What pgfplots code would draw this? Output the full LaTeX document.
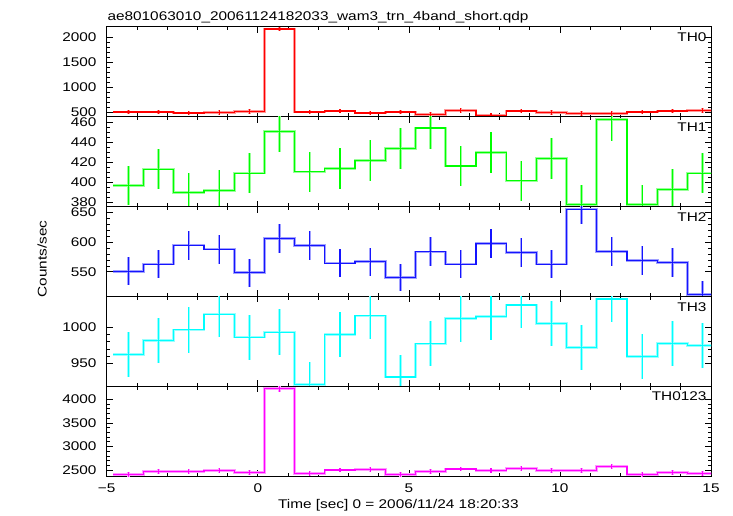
\documentclass[border=0pt]{standalone}
\usepackage{fontspec}
\setmainfont{Liberation Sans}[FakeStretch=1.22]
\usepackage{pgfplots}
\usepackage{pgfplotstable}
\pgfplotsset{compat=1.18}
\newcommand\F{\fontsize{12.6bp}{15bp}\selectfont}

% columns: l = left bin edge, c = bin centre, y = rate, e = error
\pgfplotstableread{
l c y e
-4.78 -4.28 513 45
-3.78 -3.28 513 45
-2.78 -2.28 493 45
-1.78 -1.28 500 45
-0.78 -0.28 527 45
0.22 0.72 2165 47
1.22 1.72 513 45
2.22 2.72 533 45
3.22 3.72 493 45
4.22 4.72 513 45
5.22 5.72 460 45
6.22 6.72 547 45
7.22 7.72 447 45
8.22 8.72 533 45
9.22 9.72 500 45
10.22 10.72 487 45
11.22 11.72 480 45
12.22 12.72 513 45
13.22 13.72 533 45
14.22 14.72 540 45
15.22 nan 540 0
}\thzero

\pgfplotstableread{
l c y e
-4.78 -4.28 396.4 19.9
-3.78 -3.28 412.8 20.3
-2.78 -2.28 389.7 19.7
-1.78 -1.28 391.7 19.8
-0.78 -0.28 408.8 20.2
0.22 0.72 450.9 21.2
1.22 1.72 410.1 20.3
2.22 2.72 413.4 20.3
3.22 3.72 421.5 20.5
4.22 4.72 433.5 20.8
5.22 5.72 454.2 21.3
6.22 6.72 416.1 20.4
7.22 7.72 429.5 20.7
8.22 8.72 401.1 20.0
9.22 9.72 423.8 20.6
10.22 10.72 377.3 19.4
11.22 11.72 462.9 21.5
12.22 12.72 377.3 19.4
13.22 13.72 392.7 19.8
14.22 14.72 408.8 20.2
15.22 nan 408.8 0
}\thone

\pgfplotstableread{
l c y e
-4.78 -4.28 550.6 23.5
-3.78 -3.28 562.8 23.7
-2.78 -2.28 594.7 24.4
-1.78 -1.28 588.0 24.2
-0.78 -0.28 548.3 23.4
0.22 0.72 605.9 24.6
1.22 1.72 593.6 24.4
2.22 2.72 564.5 23.8
3.22 3.72 566.8 23.8
4.22 4.72 540.5 23.2
5.22 5.72 583.5 24.2
6.22 6.72 562.8 23.7
7.22 7.72 597.5 24.4
8.22 8.72 582.4 24.1
9.22 9.72 562.8 23.7
10.22 10.72 655.0 25.6
11.22 11.72 584.1 24.2
12.22 12.72 569.0 23.9
13.22 13.72 565.6 23.8
14.22 14.72 512.0 22.6
15.22 nan 512.0 0
}\thtwo

\pgfplotstableread{
l c y e
-4.78 -4.28 962.5 31.0
-3.78 -3.28 981.9 31.3
-2.78 -2.28 996.3 31.6
-1.78 -1.28 1018.0 31.9
-0.78 -0.28 986.1 31.4
0.22 0.72 993.1 31.5
1.22 1.72 920.8 30.3
2.22 2.72 989.8 31.5
3.22 3.72 1015.7 31.9
4.22 4.72 931.0 30.5
5.22 5.72 976.9 31.3
6.22 6.72 1011.6 31.8
7.22 7.72 1014.4 31.8
8.22 8.72 1030.6 32.1
9.22 9.72 1005.1 31.7
10.22 10.72 972.2 31.2
11.22 11.72 1038.9 32.2
12.22 12.72 959.7 31.0
13.22 13.72 977.3 31.3
14.22 14.72 974.5 31.2
15.22 nan 974.5 0
}\ththree

\pgfplotstableread{
l c y e
-4.78 -4.28 2408 49.1
-3.78 -3.28 2465 49.6
-2.78 -2.28 2472 49.7
-1.78 -1.28 2493 49.9
-0.78 -0.28 2451 49.5
0.22 0.72 4226 65.0
1.22 1.72 2422 49.2
2.22 2.72 2500 50.0
3.22 3.72 2507 50.1
4.22 4.72 2401 49.0
5.22 5.72 2472 49.7
6.22 6.72 2521 50.2
7.22 7.72 2493 49.9
8.22 8.72 2535 50.3
9.22 9.72 2493 49.9
10.22 10.72 2493 49.9
11.22 11.72 2578 50.8
12.22 12.72 2401 49.0
13.22 13.72 2451 49.5
14.22 14.72 2422 49.2
15.22 nan 2422 0
}\thall

\pgfplotsset{
  panel/.style={
    scale only axis, width=604.3bp, height=89.92bp,
    xmin=-5, xmax=15, xtick={-5,0,5,10,15}, minor x tick num=4,
    xticklabels={},
    major tick length=6bp, minor tick length=3.5bp,
    tick style={black, line width=0.6bp},
    axis line style={black, line width=0.8bp},
    /pgf/number format/assume math mode=true,
    /pgf/number format/1000 sep={},
    scaled y ticks=false,
    tick label style={font=\F},
    yticklabel style={inner sep=0pt, anchor=east, xshift=-10bp},
    xticklabel style={inner sep=0pt, anchor=north, yshift=-7bp},
  },
  hhalo/.style={color=#1!40, solid, line width=2.6bp, mark=none, const plot mark left, forget plot},
  hstep/.style={color=#1, solid, line width=1.2bp, mark=none, const plot mark left},
  herrhalo/.style={color=#1!40, line width=2.4bp, only marks, mark=*, forget plot,
    mark options={draw opacity=0, fill opacity=0},
    error bars/.cd, y dir=both, y explicit, error mark=none,
    error bar style={line width=2.4bp, solid, color=#1!40}},
  herr/.style={color=#1, line width=1.1bp, only marks, mark=*,
    mark options={draw opacity=0, fill opacity=0},
    error bars/.cd, y dir=both, y explicit, error mark=none,
    error bar style={line width=1.1bp, solid, color=#1}},
}

\definecolor{qred}{RGB}{255,0,0}
\definecolor{qgreen}{RGB}{0,255,0}
\definecolor{qblue}{RGB}{20,20,255}
\definecolor{qcyan}{RGB}{0,255,255}
\definecolor{qmag}{RGB}{255,0,255}

\begin{document}
\F
\begin{tikzpicture}
\path[use as bounding box] (0,0) rectangle (733bp,-516bp);

\begin{axis}[panel, at={(106.7bp,-26.7bp)}, anchor=north west,
  ymin=420, ymax=2210, ytick={500,1000,1500,2000}, minor y tick num=4]
  \addplot[hhalo=qred] table[x=l, y=y] {\thzero};
  \addplot[herrhalo=qred] table[x=c, y=y, y error=e] {\thzero};
  \addplot[herr=qred] table[x=c, y=y, y error=e] {\thzero};
  \addplot[hstep=qred] table[x=l, y=y] {\thzero};
  \node[anchor=north east, inner sep=0pt, font=\F] at (rel axis cs:1,1) [xshift=-4.3bp, yshift=-5.6bp] {TH0};
\end{axis}

\begin{axis}[panel, at={(106.7bp,-116.62bp)}, anchor=north west,
  ymin=375.3, ymax=465.6, ytick={380,400,420,440,460}, minor y tick num=3]
  \addplot[hhalo=qgreen] table[x=l, y=y] {\thone};
  \addplot[herrhalo=qgreen] table[x=c, y=y, y error=e] {\thone};
  \addplot[herr=qgreen] table[x=c, y=y, y error=e] {\thone};
  \addplot[hstep=qgreen] table[x=l, y=y] {\thone};
  \node[anchor=north east, inner sep=0pt, font=\F] at (rel axis cs:1,1) [xshift=-4.3bp, yshift=-5.6bp] {TH1};
\end{axis}

\begin{axis}[panel, at={(106.7bp,-206.54bp)}, anchor=north west,
  ymin=508.6, ymax=659.4, ytick={550,600,650}, minor y tick num=4]
  \addplot[hhalo=qblue] table[x=l, y=y] {\thtwo};
  \addplot[herrhalo=qblue] table[x=c, y=y, y error=e] {\thtwo};
  \addplot[herr=qblue] table[x=c, y=y, y error=e] {\thtwo};
  \addplot[hstep=qblue] table[x=l, y=y] {\thtwo};
  \node[anchor=north east, inner sep=0pt, font=\F] at (rel axis cs:1,1) [xshift=-4.3bp, yshift=-5.6bp] {TH2};
\end{axis}

\begin{axis}[panel, at={(106.7bp,-296.46bp)}, anchor=north west,
  ymin=918, ymax=1042.5, ytick={950,1000}, minor y tick num=4]
  \addplot[hhalo=qcyan] table[x=l, y=y] {\ththree};
  \addplot[herrhalo=qcyan] table[x=c, y=y, y error=e] {\ththree};
  \addplot[herr=qcyan] table[x=c, y=y, y error=e] {\ththree};
  \addplot[hstep=qcyan] table[x=l, y=y] {\ththree};
  \node[anchor=north east, inner sep=0pt, font=\F] at (rel axis cs:1,1) [xshift=-4.3bp, yshift=-5.6bp] {TH3};
\end{axis}

\begin{axis}[panel, at={(106.7bp,-386.38bp)}, anchor=north west,
  ymin=2366, ymax=4276, ytick={2500,3000,3500,4000}, minor y tick num=4,
  xticklabels={−5,0,5,10,15}]
  \addplot[hhalo=qmag] table[x=l, y=y] {\thall};
  \addplot[herrhalo=qmag] table[x=c, y=y, y error=e] {\thall};
  \addplot[herr=qmag] table[x=c, y=y, y error=e] {\thall};
  \addplot[hstep=qmag] table[x=l, y=y] {\thall};
  \node[anchor=north east, inner sep=0pt, font=\F] at (rel axis cs:1,1) [xshift=-4.3bp, yshift=-5.6bp] {TH0123};
\end{axis}

\node[anchor=base west, inner sep=0pt, font=\F] at (107.3bp,-20bp) {ae801063010\_20061124182033\_wam3\_trn\_4band\_short.qdp};
\node[anchor=base, inner sep=0pt, font=\F] at (398.3bp,-508.3bp) {Time [sec] 0 = 2006/11/24 18:20:33};
\node[anchor=base, inner sep=0pt, rotate=90, font=\F] at (46.7bp,-259bp) {Counts/sec};
\end{tikzpicture}
\end{document}
